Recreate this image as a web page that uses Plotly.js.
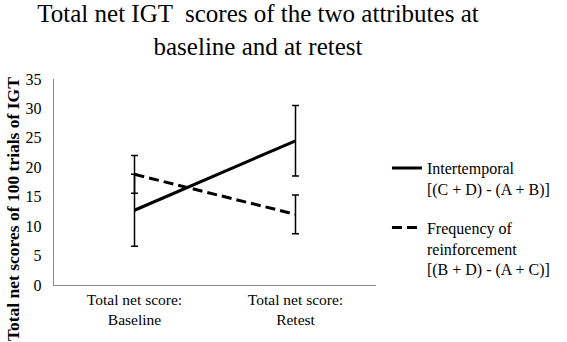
<!DOCTYPE html>
<html>
<head>
<meta charset="utf-8">
<script src="https://cdn.plot.ly/plotly-3.0.1.min.js"></script>
<style>html,body{margin:0;padding:0;background:#fff;}#chart{width:567px;height:342px;}</style>
</head>
<body>
<div id="chart"></div>
<script>
var categories = ["Total net score:<br>Baseline", "Total net score:<br>Retest"];
var seriesNames = ["Intertemporal<br>[(C + D) - (A + B)]", "Frequency of<br>reinforcement<br>[(B + D) - (A + C)]"];
var intertemporal = [12.7, 24.5];
var intertemporalErr = [6.1, 6.0];
var frequency = [18.8, 12.0];
var frequencyErr = [3.2, 3.3];
var yTicks = [0, 5, 10, 15, 20, 25, 30, 35];
var titleText = "Total net IGT  scores of the two attributes at<br>baseline and at retest";
var yTitleText = "<b>Total net scores of 100 trials of IGT</b>";

var serif = "Liberation Serif";

var traces = [
  {
    x: categories, y: intertemporal, name: seriesNames[0], type: "scatter", mode: "lines",
    legendgroup: "a",
    line: {color: "#000", width: 3},
    error_y: {type: "data", array: intertemporalErr, visible: true, color: "#000", thickness: 1.5, width: 3.5}
  },
  {
    x: categories, y: frequency, name: seriesNames[1], type: "scatter", mode: "lines",
    legendgroup: "b",
    line: {color: "#000", width: 3, dash: "10px,5px"},
    error_y: {type: "data", array: frequencyErr, visible: true, color: "#000", thickness: 1.5, width: 3.5}
  }
];

var layout = {
  width: 567, height: 342,
  margin: {l: 54, r: 191, t: 79, b: 57},
  paper_bgcolor: "#fff", plot_bgcolor: "#fff",
  font: {family: serif, color: "#000", size: 16},
  title: {
    text: titleText,
    font: {family: serif, size: 25, color: "#000"},
    xref: "container", x: 0.455, xanchor: "center",
    yref: "container", y: 0.935, yanchor: "top"
  },
  showlegend: true,
  legend: {
    x: 1.034, xanchor: "left", y: 0.65, yanchor: "top",
    font: {family: serif, size: 16, color: "#000"},
    valign: "top", traceorder: "grouped", tracegroupgap: 15,
    bgcolor: "rgba(0,0,0,0)"
  },
  xaxis: {
    type: "category", range: [-0.5, 1.5],
    showline: true, linecolor: "#898989", linewidth: 1.2,
    showgrid: false, zeroline: false, ticks: "",
    tickfont: {family: serif, size: 15.5, color: "#000"},
    fixedrange: true
  },
  yaxis: {
    range: [0, 35], tickvals: yTicks, ticktext: yTicks.map(String),
    showline: true, linecolor: "#898989", linewidth: 1.2,
    showgrid: false, zeroline: false, ticks: "",
    ticklabelstandoff: 8,
    tickfont: {family: serif, size: 16, color: "#000"},
    fixedrange: true
  },
  annotations: [
    {
      text: yTitleText, textangle: -90, showarrow: false,
      xref: "paper", yref: "paper", x: -0.127, y: 0.369,
      xanchor: "center", yanchor: "middle",
      font: {family: serif, size: 17.5, color: "#000"}
    }
  ]
};

Plotly.newPlot("chart", traces, layout, {displayModeBar: false, staticPlot: true});
</script>
</body>
</html>
